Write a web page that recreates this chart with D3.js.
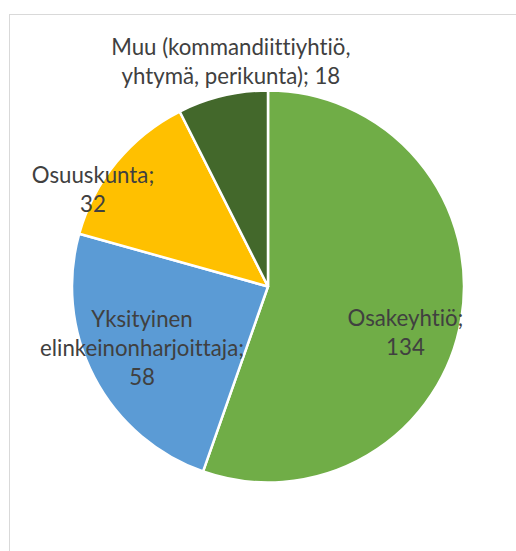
<!doctype html>
<html lang="fi">
<head>
<meta charset="UTF-8">
<title>Yritysmuodot</title>
<style>
  html, body { margin: 0; padding: 0; background: #fff; }
  svg { display: block; }
  text { font-variant-ligatures: none; }
</style>
</head>
<body>
<script src="https://cdn.jsdelivr.net/npm/d3@7"></script>
<script>
// data
var categories = ["Osakeyhtiö", "Yksityinen elinkeinonharjoittaja", "Osuuskunta", "Muu (kommandiittiyhtiö, yhtymä, perikunta)"];
var values = [134, 58, 32, 18];
var colors = ["#70ad47", "#5b9bd5", "#ffc000", "#43682b"];
// how the data labels wrap, one entry per slice
var labelLines = [
  ["Osakeyhtiö;", "134"],
  ["Yksityinen", "elinkeinonharjoittaja;", "58"],
  ["Osuuskunta;", "32"],
  ["Muu (kommandiittiyhtiö,", "yhtymä, perikunta); 18"]
];

var WIDTH = 516, HEIGHT = 551;
var cx = 268, cy = 286.5, R = 196;

// label anchors as (angle in degrees from 12 o'clock, distance as share of radius)
var labelPolar = [[108.6, 0.74], [244, 0.715], [298.9, 1.02], [350.6, 1.16]];
var lineGap = 29;

var svg = d3.select("body").append("svg")
  .attr("width", WIDTH)
  .attr("height", HEIGHT);

// chart area frame (runs off the right and bottom of the picture)
svg.append("rect")
  .attr("x", 9.5).attr("y", 14.5)
  .attr("width", 600).attr("height", 600)
  .attr("fill", "none")
  .attr("stroke", "#d9d9d9")
  .attr("stroke-width", 1);

var pie = d3.pie().sort(null).value(function(d) { return d; });
var arc = d3.arc().innerRadius(0).outerRadius(R);

var g = svg.append("g").attr("transform", "translate(" + cx + "," + cy + ")");

g.selectAll("path")
  .data(pie(values))
  .enter()
  .append("path")
  .attr("d", arc)
  .attr("fill", function(d, i) { return colors[i]; })
  .attr("stroke", "#fff")
  .attr("stroke-width", 2.5)
  .attr("stroke-linejoin", "round");

// pick a font size so the longest label line is about as wide as in the picture
var fontFamily = "Lato, 'Open Sans', 'Liberation Sans', sans-serif";
var probe = svg.append("text")
  .attr("font-family", fontFamily)
  .attr("font-size", 20)
  .text("elinkeinonharjoittaja;");
var fontSize = 20 * 204 / probe.node().getComputedTextLength();
probe.remove();

var labels = g.selectAll("text.lbl")
  .data(labelLines)
  .enter()
  .append("text")
  .attr("class", "lbl")
  .attr("font-family", fontFamily)
  .attr("font-size", fontSize)
  .attr("fill", "#404040")
  .attr("text-anchor", "middle")
  .attr("transform", function(d, i) {
    var a = labelPolar[i][0] * Math.PI / 180;
    var r = labelPolar[i][1] * R;
    return "translate(" + (r * Math.sin(a)) + "," + (-r * Math.cos(a)) + ")";
  });

labels.each(function(lines) {
  var t = d3.select(this);
  var n = lines.length;
  lines.forEach(function(line, k) {
    t.append("tspan")
      .attr("x", 0)
      .attr("y", (k - (n - 1) / 2) * lineGap)
      .attr("dy", "0.35em")
      .text(line);
  });
});
</script>
</body>
</html>
